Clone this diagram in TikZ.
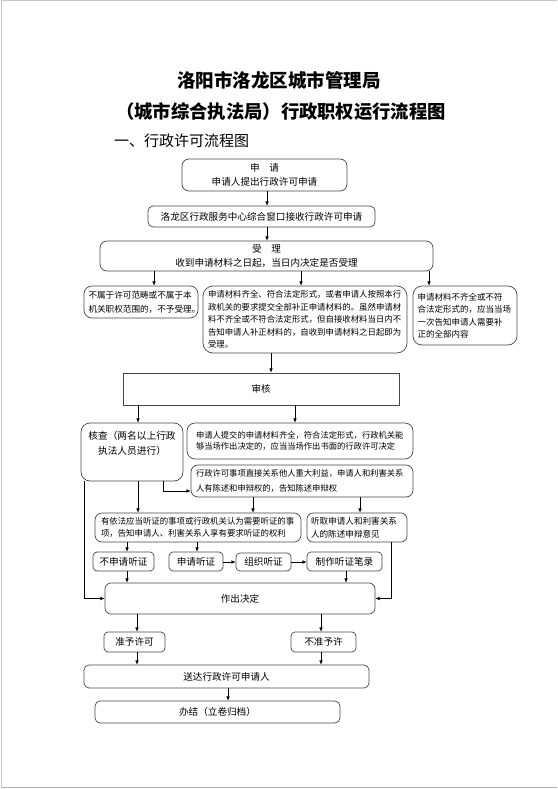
\documentclass[tikz,border=0pt]{standalone}
\usepackage{fontspec}
\setmainfont{Noto Sans CJK SC}
\usetikzlibrary{arrows.meta}
\tikzset{
  box/.style={draw=black!72, line width=0.7pt, rounded corners=5pt, inner sep=0pt, align=center,
    font=\fontsize{8.4}{12.5}\selectfont},
  sqbox/.style={draw=black!72, line width=0.7pt, inner sep=0pt, font=\fontsize{9.5}{12}\selectfont},
  big/.style={font=\fontsize{9.6}{13.5}\selectfont},
  arr/.style={-{Latex[length=4.2pt,width=3.6pt]}, line width=0.6pt},
  ln/.style={line width=0.6pt},
}
\begin{document}
\begin{tikzpicture}[x=1pt,y=-1pt]
\useasboundingbox (0,0) rectangle (557,789);
\draw[black!22, line width=1pt] (557,1) -- (1,1) -- (1,787.5);
\draw[black!30, line width=1.2pt] (1,787.5) -- (557,787.5);

% titles
\node[font=\bfseries\fontsize{18.5}{20}\selectfont, inner sep=0pt] (t1) at (279,80) {洛阳市洛龙区城市管理局};
\node[font=\bfseries\fontsize{18.3}{20}\selectfont, inner sep=0pt] (t2) at (281,112) {（城市综合执法局）行政职权运行流程图};
\node[font=\fontsize{15}{16}\selectfont, inner sep=0pt, anchor=west] (t3) at (114,141) {一、行政许可流程图};

% boxes
\node[box, big, rounded corners=7pt, minimum width=165pt, minimum height=32pt] (apply) at (264.5,175) {申\quad 请\\申请人提出行政许可申请};
\node[box, big, minimum width=227pt, minimum height=21pt] (recv) at (261.5,216.5) {洛龙区行政服务中心综合窗口接收行政许可申请};
\node[box, big, rounded corners=7pt, minimum width=333pt, minimum height=30pt] (accept) at (266.5,256) {受\quad 理\\收到申请材料之日起，当日内决定是否受理};

\node[box, font=\fontsize{8.6}{14}\selectfont, rounded corners=8pt, minimum width=114pt, minimum height=32pt, text width=105pt, align=left] (A) at (141,302) {不属于许可范畴或不属于本\\机关职权范围的，不予受理。};
\node[box, rounded corners=10pt, minimum width=204pt, minimum height=67pt, text width=194pt, align=left] (B) at (305,319.5) {申请材料齐全、符合法定形式，或者申请人按照本行\\政机关的要求提交全部补正申请材料的。虽然申请材\\料不齐全或不符合法定形式，但自接收材料当日内不\\告知申请人补正材料的，自收到申请材料之日起即为\\受理。};
\node[box, font=\fontsize{8.5}{12.5}\selectfont, rounded corners=9pt, minimum width=104pt, minimum height=59pt, text width=95pt, align=left] (C) at (465,315.5) {申请材料不齐全或不符\\合法定形式的，应当当场\\一次告知申请人需要补\\正的全部内容};

\node[sqbox, minimum width=276pt, minimum height=32pt] (review) at (261,389) {审核};

\node[box, rounded corners=9pt, minimum width=102pt, minimum height=58pt] (check) at (132,452) {};
\node[font=\fontsize{9.7}{15}\selectfont, align=center, inner sep=0pt] (checktext) at (132,443.5) {核查（两名以上行政\\执法人员进行）};
\node[box, font=\fontsize{8.3}{11.5}\selectfont, rounded corners=8pt, minimum width=226pt, minimum height=36pt, text width=208pt, align=left] (D) at (300,441) {申请人提交的申请材料齐全，符合法定形式，行政机关能\\够当场作出决定的，应当当场作出书面的行政许可决定};
\node[box, font=\fontsize{8.3}{15}\selectfont, rounded corners=7pt, minimum width=222pt, minimum height=32pt, text width=212pt, align=left] (E) at (302,481) {行政许可事项直接关系他人重大利益，申请人和利害关系\\人有陈述和申辩权的，告知陈述申辩权};

\node[box, font=\fontsize{8.4}{11.5}\selectfont, rounded corners=7pt, minimum width=206pt, minimum height=29pt, text width=194pt, align=left] (hear) at (198,527.5) {有依法应当听证的事项或行政机关认为需要听证的事\\项，告知申请人、利害关系人享有要求听证的权利};
\node[box, font=\fontsize{8.6}{13}\selectfont, rounded corners=6pt, minimum width=100pt, minimum height=29pt, text width=92pt, align=left] (listen) at (357,527.5) {听取申请人和利害关系\\人的陈述申辩意见};

\node[box, big, rounded corners=4pt, minimum width=61pt, minimum height=19pt] (noapply) at (123.5,561.5) {不申请听证};
\node[box, big, rounded corners=4pt, minimum width=54pt, minimum height=19pt] (applyh) at (196,561.5) {申请听证};
\node[box, big, rounded corners=4pt, minimum width=55pt, minimum height=18pt] (org) at (263.5,562) {组织听证};
\node[box, big, rounded corners=4pt, minimum width=75pt, minimum height=19pt] (record) at (344.5,561.5) {制作听证笔录};

\node[box, big, rounded corners=6pt, minimum width=270pt, minimum height=31pt] (decide) at (240,598.5) {作出决定};
\node[box, big, rounded corners=4pt, minimum width=61pt, minimum height=20pt] (grant) at (134.5,642) {准予许可};
\node[box, big, rounded corners=4pt, minimum width=65pt, minimum height=20pt] (deny) at (323.5,642) {不准予许};
\node[box, big, rounded corners=5pt, minimum width=285pt, minimum height=23pt] (deliver) at (226.5,676.5) {送达行政许可申请人};
\node[box, big, rounded corners=5pt, minimum width=245pt, minimum height=22pt] (finish) at (217.5,712) {办结（立卷归档）};

% connectors
\draw[arr] (apply.south -| 267,0) -- (recv.north -| 267,0);
\draw[arr] (recv.south -| 267,0) -- (accept.north -| 267,0);
\draw[arr] (accept.south -| 154,0) -- (A.north -| 154,0);
\draw[arr] (accept.south -| 301,0) -- (B.north -| 301,0);
\draw[arr] (accept.south -| 429,0) -- (C.north -| 429,0);
\draw[arr] (B.south -| 271,0) -- (review.north -| 271,0);
\draw[arr] (review.south -| 138,0) -- (check.north -| 138,0);
\draw[arr] (review.south -| 295,0) -- (D.north -| 295,0);
\draw[arr] (check.south -| 138,0) -- (hear.north -| 138,0);
\draw[arr] (check.south -| 163,0) |- (E.west |- 0,491);
\draw[arr] (check.south -| 84,0) |- (decide.west);
\draw[arr] (E.south -| 253,0) -- (hear.north -| 253,0);
\draw[arr] (E.south -| 360,0) -- (listen.north -| 360,0);
\draw[arr] (hear.south -| 127,0) -- (noapply.north -| 127,0);
\draw[arr] (hear.south -| 197,0) -- (applyh.north -| 197,0);
\draw[arr] (applyh.east |- 0,562) -- (org.west |- 0,562);
\draw[arr] (org.east |- 0,562) -- (record.west |- 0,562);
\draw[arr] (noapply.south -| 127,0) -- (decide.north -| 127,0);
\draw[arr] (record.south -| 346,0) -- (decide.north -| 346,0);
\draw[arr] (listen.south -| 391,0) |- (decide.east);
\draw[arr] (decide.south -| 137,0) -- (grant.north -| 137,0);
\draw[arr] (decide.south -| 321,0) -- (deny.north -| 321,0);
\draw[arr] (grant.south -| 137,0) -- (deliver.north -| 137,0);
\draw[arr] (deny.south -| 321,0) -- (deliver.north -| 321,0);
\draw[arr] (deliver.south -| 228,0) -- (finish.north -| 228,0);
\end{tikzpicture}
\end{document}
